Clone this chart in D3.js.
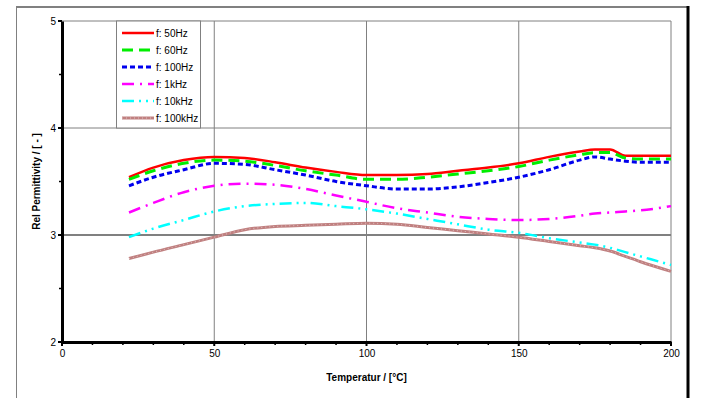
<!DOCTYPE html>
<html>
<head>
<meta charset="utf-8">
<script src="https://cdn.jsdelivr.net/npm/d3@7"></script>
<style>
  body { margin: 0; background: #fff; }
  text { font-family: "Liberation Sans", Arial, sans-serif; }
</style>
</head>
<body>
<svg id="chart"></svg>
<script>
// temperature points (degC)
const temps = [22, 30, 40, 50, 60, 70, 80, 90, 100, 110, 120, 130, 140, 150, 160, 170, 175, 180, 185, 190, 200];

const f50Hz   = [3.54, 3.63, 3.70, 3.73, 3.72, 3.68, 3.63, 3.59, 3.56, 3.56, 3.57, 3.60, 3.63, 3.67, 3.73, 3.78, 3.80, 3.80, 3.74, 3.74, 3.74];
const f60Hz   = [3.52, 3.60, 3.67, 3.70, 3.69, 3.65, 3.60, 3.56, 3.52, 3.52, 3.54, 3.57, 3.60, 3.64, 3.70, 3.75, 3.77, 3.77, 3.72, 3.71, 3.71];
const f100Hz  = [3.46, 3.54, 3.61, 3.67, 3.66, 3.61, 3.56, 3.50, 3.46, 3.43, 3.43, 3.45, 3.49, 3.54, 3.61, 3.70, 3.73, 3.71, 3.69, 3.68, 3.68];
const f1kHz   = [3.21, 3.30, 3.40, 3.46, 3.48, 3.47, 3.43, 3.37, 3.31, 3.25, 3.21, 3.17, 3.15, 3.14, 3.15, 3.18, 3.20, 3.21, 3.22, 3.23, 3.27];
const f10kHz  = [2.98, 3.06, 3.14, 3.22, 3.27, 3.29, 3.30, 3.27, 3.24, 3.20, 3.15, 3.10, 3.05, 3.02, 2.97, 2.93, 2.91, 2.88, 2.84, 2.80, 2.72];
const f100kHz = [2.78, 2.84, 2.91, 2.98, 3.05, 3.08, 3.09, 3.10, 3.11, 3.10, 3.07, 3.04, 3.01, 2.98, 2.94, 2.90, 2.88, 2.85, 2.80, 2.75, 2.66];

const seriesNames = ["f: 50Hz", "f: 60Hz", "f: 100Hz", "f: 1kHz", "f: 10kHz", "f: 100kHz"];
const xTicks = [0, 50, 100, 150, 200];
const yTicks = [2, 3, 4, 5];

const width = 702;
const height = 398;
const plotLeft = 62, plotRight = 671, plotTop = 21, plotBottom = 342;

const series = [
  { name: seriesNames[0], values: f50Hz,   color: "#ff0000", w: 2.5, dash: null },
  { name: seriesNames[1], values: f60Hz,   color: "#00ee00", w: 3,   dash: "11,6" },
  { name: seriesNames[2], values: f100Hz,  color: "#0000ee", w: 3,   dash: "5,3" },
  { name: seriesNames[3], values: f1kHz,   color: "#ff00ff", w: 2.5, dash: "12,6,2,6" },
  { name: seriesNames[4], values: f10kHz,  color: "#00ffff", w: 2.5, dash: "12,5,2,5,2,5" },
  { name: seriesNames[5], values: f100kHz, color: "#c08080", w: 3,   dash: null, dotted: true }
];

const xScale = d3.scaleLinear().domain([0, 200]).range([plotLeft, plotRight]);
const yScale = d3.scaleLinear().domain([2, 5]).range([plotBottom, plotTop]);

const svg = d3.select("#chart")
  .attr("width", width)
  .attr("height", height);

// outer frame
svg.append("line").attr("x1", 16).attr("x2", 688).attr("y1", 7).attr("y2", 7)
  .attr("stroke", "#808080").attr("stroke-width", 2);
svg.append("line").attr("x1", 16.5).attr("x2", 16.5).attr("y1", 7).attr("y2", height)
  .attr("stroke", "#808080").attr("stroke-width", 1);
svg.append("line").attr("x1", 688).attr("x2", 688).attr("y1", 6).attr("y2", height)
  .attr("stroke", "#000").attr("stroke-width", 3);

// grid
const grid = svg.append("g");
[50, 100, 150, 200].forEach(t => {
  grid.append("line")
    .attr("x1", xScale(t)).attr("x2", xScale(t))
    .attr("y1", plotTop).attr("y2", plotBottom)
    .attr("stroke", "#808080").attr("stroke-width", 1);
});
[3, 4, 5].forEach(v => {
  grid.append("line")
    .attr("x1", plotLeft).attr("x2", plotRight)
    .attr("y1", yScale(v)).attr("y2", yScale(v))
    .attr("stroke", "#808080").attr("stroke-width", v === 3 ? 2 : 1);
});

// series lines
const line = d3.line()
  .x((d, i) => xScale(temps[i]))
  .y(d => yScale(d))
  .curve(d3.curveMonotoneX);

series.forEach(s => {
  svg.append("path")
    .datum(s.values)
    .attr("fill", "none")
    .attr("stroke", s.color)
    .attr("stroke-width", s.w)
    .attr("stroke-dasharray", s.dash)
    .attr("d", line);
  if (s.dotted) {
    svg.append("path")
      .datum(s.values)
      .attr("fill", "none")
      .attr("stroke", "#fff")
      .attr("stroke-opacity", 0.5)
      .attr("stroke-width", 1)
      .attr("stroke-dasharray", "1,3")
      .attr("d", line);
  }
});

// axes
const xAxis = d3.axisBottom(xScale).tickValues(xTicks).tickSize(0).tickPadding(8);
const yAxis = d3.axisLeft(yScale).tickValues(yTicks).tickFormat(d3.format("d")).tickSize(0).tickPadding(6);

const gx = svg.append("g").attr("transform", `translate(0, ${plotBottom})`).call(xAxis);
const gy = svg.append("g").attr("transform", `translate(${plotLeft}, 0)`).call(yAxis);
[gx, gy].forEach(g => {
  g.select(".domain").attr("stroke", "#000").attr("stroke-width", 3);
  g.selectAll("text").style("font-size", "10px").attr("fill", "#000");
});

// minor / major tick marks
d3.range(0, 201, 10).forEach(t => {
  svg.append("line")
    .attr("x1", xScale(t)).attr("x2", xScale(t))
    .attr("y1", plotBottom).attr("y2", plotBottom + (t % 50 === 0 ? 4 : 3))
    .attr("stroke", "#000").attr("stroke-width", t % 50 === 0 ? 2 : 1.5);
});
d3.range(2, 5.01, 0.5).forEach(v => {
  svg.append("line")
    .attr("x1", plotLeft - (v % 1 === 0 ? 4 : 3)).attr("x2", plotLeft)
    .attr("y1", yScale(v)).attr("y2", yScale(v))
    .attr("stroke", "#000").attr("stroke-width", v % 1 === 0 ? 2 : 1.5);
});

// axis titles
svg.append("text")
  .attr("x", (plotLeft + plotRight) / 2)
  .attr("y", 381)
  .style("text-anchor", "middle")
  .style("font-size", "10px")
  .style("font-weight", "bold")
  .text("Temperatur / [°C]");

svg.append("text")
  .attr("transform", "rotate(-90)")
  .attr("x", -(plotTop + plotBottom) / 2)
  .attr("y", 40)
  .style("text-anchor", "middle")
  .style("font-size", "10px")
  .style("font-weight", "bold")
  .text("Rel Permittivity / [ - ]");

// legend
const legend = svg.append("g");
legend.append("rect")
  .attr("x", 116.5).attr("y", plotTop)
  .attr("width", 84).attr("height", 107)
  .attr("fill", "#fff")
  .attr("stroke", "#808080").attr("stroke-width", 1);

series.forEach((s, i) => {
  const ly = 33 + i * 17;
  legend.append("line")
    .attr("x1", 122).attr("x2", 154)
    .attr("y1", ly).attr("y2", ly)
    .attr("stroke", s.color)
    .attr("stroke-width", s.w)
    .attr("stroke-dasharray", s.dash);
  if (s.dotted) {
    legend.append("line")
      .attr("x1", 122).attr("x2", 154)
      .attr("y1", ly).attr("y2", ly)
      .attr("stroke", "#fff").attr("stroke-opacity", 0.5)
      .attr("stroke-width", 1).attr("stroke-dasharray", "1,3");
  }
  legend.append("text")
    .attr("x", 156).attr("y", ly + 3.5)
    .style("font-size", "10px")
    .text(s.name);
});
</script>
</body>
</html>
